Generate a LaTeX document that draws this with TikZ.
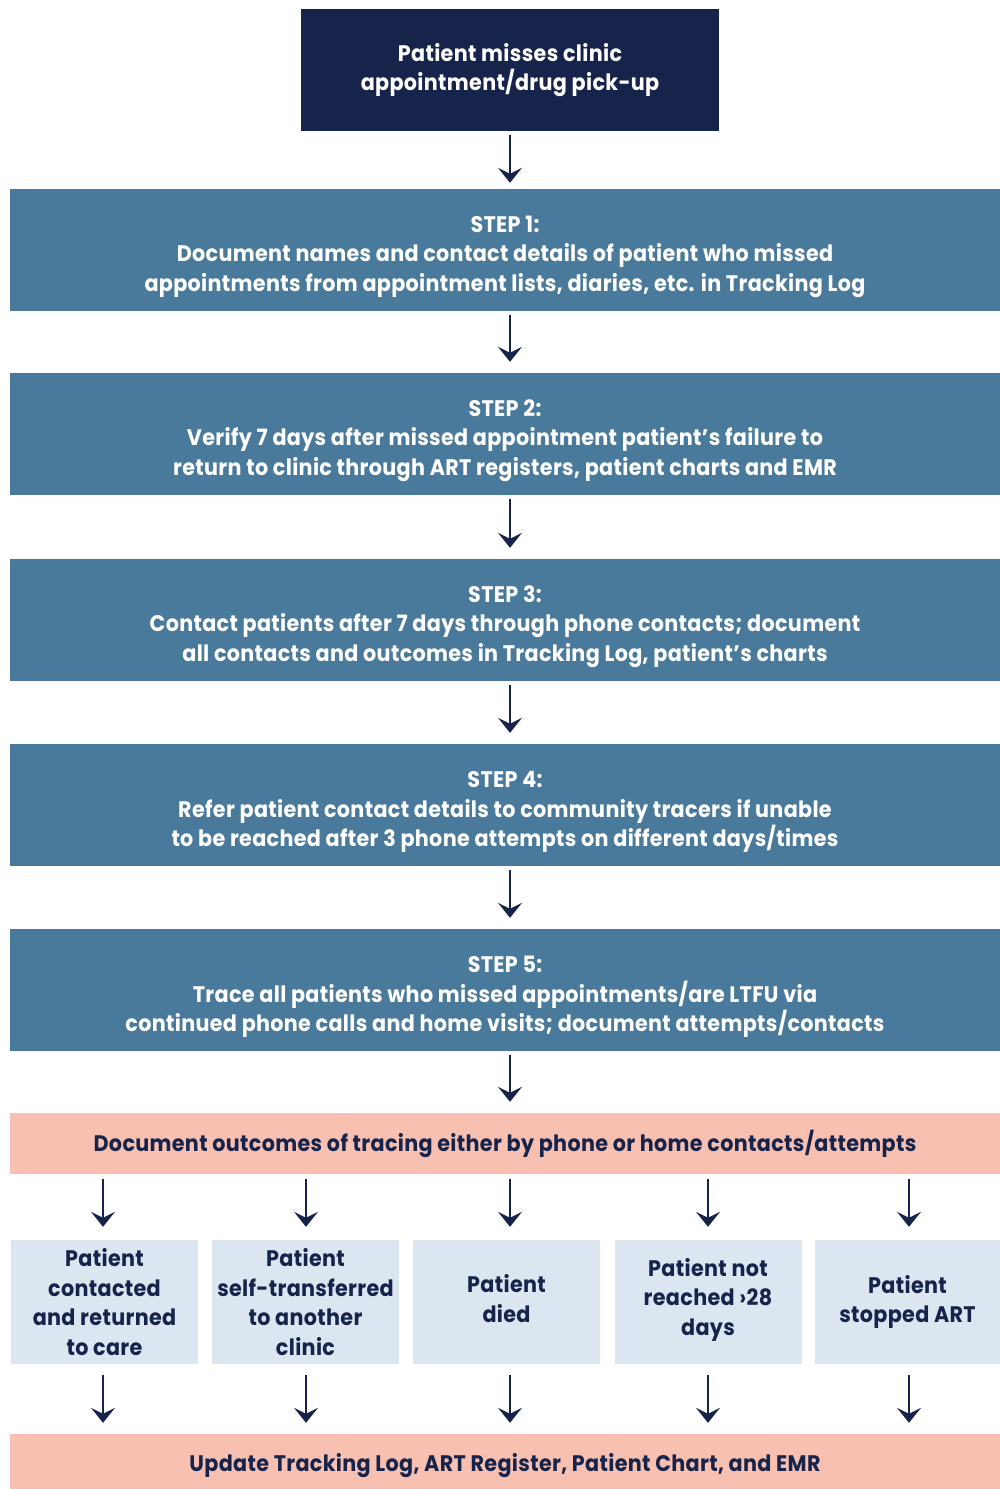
\documentclass[tikz,border=0pt]{standalone}
\usepackage{fontspec}
\setmainfont{Poppins}[FakeStretch=0.92,LetterSpace=1.5]
\usetikzlibrary{arrows.meta}
\definecolor{navy}{HTML}{16234B}
\definecolor{steel}{HTML}{4A7A9B}
\definecolor{salmon}{HTML}{F7C0B1}
\definecolor{paleblue}{HTML}{DCE6F1}
\newcommand{\dropA}{\rule{0pt}{30pt}}
\newcommand{\dropB}{\rule{0pt}{26pt}}
\newcommand{\liftA}{\rule[-7pt]{0pt}{7pt}}
\newcommand{\liftB}{\rule[-11pt]{0pt}{11pt}}
\tikzset{
  txt/.style={font=\bfseries\fontsize{22.5}{29.5}\selectfont, align=center, inner sep=0pt},
  topbox/.style={txt, fill=navy, text=white, minimum width=418pt, minimum height=122pt},
  stepbox/.style={txt, fill=steel, text=white, minimum width=990pt, minimum height=122pt},
  pinkbox/.style={txt, fill=salmon, text=navy, minimum width=990pt},
  outbox/.style={txt, fill=paleblue, text=navy, minimum width=187pt, minimum height=124pt},
  flow/.style={draw=navy, line width=2.4pt, -{Stealth[length=15pt,width=24pt,inset=6pt]}, shorten <=4pt, shorten >=11pt}
}
\begin{document}
\begin{tikzpicture}[x=1pt,y=-1pt]
\path[use as bounding box, fill=white] (0,0) rectangle (1000,1489);
\node[topbox] (top) at (510,70) {Patient misses clinic\\appointment/drug pick-up};
\node[stepbox] (s1) at (505,250) {\dropA STEP 1:\\Document names and contact details of patient who missed\\appointments from appointment lists, diaries, etc. in Tracking Log};
\node[stepbox] (s2) at (505,434) {\dropA STEP 2:\\Verify 7 days after missed appointment patient’s failure to\\return to clinic through ART registers, patient charts and EMR};
\node[stepbox] (s3) at (505,620) {\dropA STEP 3:\\Contact patients after 7 days through phone contacts; document\\all contacts and outcomes in Tracking Log, patient’s charts};
\node[stepbox] (s4) at (505,805) {\dropA STEP 4:\\Refer patient contact details to community tracers if unable\\to be reached after 3 phone attempts on different days/times};
\node[stepbox] (s5) at (505,990) {\dropA STEP 5:\\Trace all patients who missed appointments/are LTFU via\\continued phone calls and home visits; document attempts/contacts};
\node[pinkbox, minimum height=61pt] (doc) at (505,1143.5) {Document outcomes of tracing either by phone or home contacts/attempts};
\node[outbox] (o1) at (104.5,1302) {Patient\\contacted\\and returned\\to care};
\node[outbox] (o2) at (305.5,1302) {Patient\\self-transferred\\to another\\clinic};
\node[outbox] (o3) at (506.5,1302) {Patient\\died\liftA};
\node[outbox] (o4) at (708,1302) {Patient not\\reached ›28\\days\liftB};
\node[outbox, minimum width=185pt] (o5) at (907.5,1302) {Patient\\stopped ART};
\node[pinkbox, minimum height=55pt] (upd) at (505,1461.5) {\dropB Update Tracking Log, ART Register, Patient Chart, and EMR};
\draw[flow, shorten >=6pt] (top.south) -- (top.south |- s1.north);
\draw[flow] (s1.south -| top.south) -- (s2.north -| top.south);
\draw[flow] (s2.south -| top.south) -- (s3.north -| top.south);
\draw[flow] (s3.south -| top.south) -- (s4.north -| top.south);
\draw[flow] (s4.south -| top.south) -- (s5.north -| top.south);
\draw[flow] (s5.south -| top.south) -- (doc.north -| top.south);
\foreach \o/\xx in {o1/103,o2/306,o3/510,o4/708,o5/909}{
  \coordinate (a\o) at (\xx,1174);
  \coordinate (d\o) at (\xx,1434);
  \draw[flow, shorten <=5pt, shorten >=13pt] (doc.south -| a\o) -- (\o.north -| a\o);
  \draw[flow, shorten <=11pt, shorten >=11pt] (\o.south -| d\o) -- (upd.north -| d\o);
}
\end{tikzpicture}
\end{document}
